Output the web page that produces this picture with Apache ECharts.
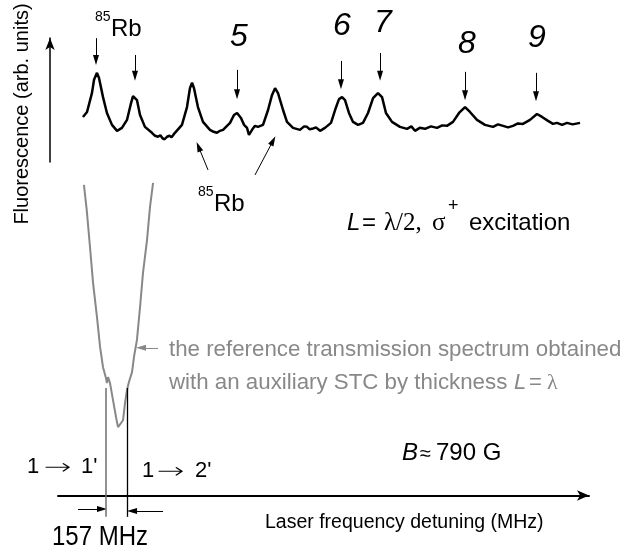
<!DOCTYPE html>
<html>
<head>
<meta charset="utf-8">
<title>Fluorescence spectrum, L = lambda/2</title>
<script src="https://cdn.jsdelivr.net/npm/echarts@6/dist/echarts.min.js"></script>
<style>
    html, body { margin: 0; padding: 0; background: #fff; }
    #chart { width: 639px; height: 555px; }
</style>
</head>
<body>
<div id="chart"></div>
<script>
    // laser detuning in MHz (0 = 1->1' transition), signal in arb. units
    var fluoX = [-162, -133, -98, -83, -62, -48, -19, 9, 45, 81,
        116, 152, 181, 195, 223, 245, 280, 330, 352, 373,
        390, 405, 420, 437, 455, 470, 494, 544, 580, 601,
        616, 630, 658, 694, 744, 770, 794, 815, 837, 887,
        915, 937, 965, 987, 1008, 1022, 1044, 1065, 1086, 1122,
        1158, 1186, 1208, 1229, 1265, 1293, 1336, 1386, 1415, 1436,
        1455, 1472, 1500, 1529, 1564, 1607, 1636, 1664, 1686, 1707,
        1735, 1764, 1800, 1835, 1871, 1907, 1942, 1971, 1999, 2042,
        2099, 2149, 2180, 2206, 2240, 2277, 2320, 2363, 2400, 2434,
        2477, 2520, 2563, 2598, 2648, 2705, 2762, 2798, 2834, 2870,
        2905, 2940, 2976, 3026, 3076, 3112, 3155, 3190, 3219, 3255,
        3290, 3330, 3383];
    var fluoY = [76.4, 77.4, 81.2, 83.9, 85.3, 84.3, 80.4, 77.2, 74.8, 73.6,
        74.2, 75.8, 79.2, 80.6, 79.8, 76.8, 74.4, 73.2, 72.6, 72.4,
        72.7, 72.1, 71.9, 72.4, 72.6, 72.3, 73.2, 74.8, 78.4, 82.2,
        83.3, 82.2, 78.4, 75.4, 73.8, 73.4, 73.2, 73.6, 73.8, 75.2,
        76.8, 77.2, 76.2, 74.8, 74.2, 72.8, 73.8, 74.6, 74.4, 74.8,
        77.8, 80.8, 82.2, 81.2, 77.8, 75.4, 74.2, 73.8, 74.5, 74.4,
        73.9, 74.0, 74.3, 73.6, 74.2, 75.2, 77.8, 80.0, 80.4, 79.8,
        77.2, 75.4, 74.8, 75.2, 77.2, 80.2, 81.2, 80.4, 77.2, 75.4,
        74.4, 74.0, 74.5, 73.6, 74.2, 74.0, 74.5, 74.2, 74.7, 74.6,
        75.4, 77.2, 78.4, 77.4, 75.8, 74.8, 74.4, 74.9, 74.6, 74.3,
        74.6, 75.1, 75.0, 75.8, 77.0, 76.4, 75.6, 75.0, 75.2, 74.8,
        75.2, 74.9, 75.2];

    // reference transmission spectrum (auxiliary STC, L = lambda)
    var refX = [-155, -135, -112, -90, -62, -40, -19, 2, 9, 17,
        31, 52, 74, 88, 102, 124, 138, 152, 166, 188,
        202, 223, 245, 266, 295, 316, 338];
    var refY = [62.7, 57.6, 50.2, 42.9, 36.0, 30.0, 25.9, 23.7, 22.7, 23.9,
        22.7, 19.3, 15.8, 13.8, 13.6, 15.2, 18.7, 21.3, 22.9, 24.9,
        28.0, 31.4, 38.0, 44.9, 51.6, 58.2, 63.1];

    // vertical arrows over the peaks
    var peakArrowX = [-69, 209, 937, 1678, 1957, 2563, 3069];
    var peakArrowTail = [92.3, 88.9, 85.9, 87.7, 89.3, 85.5, 85.3];
    var peakArrowHead = [87.9, 84.7, 81.0, 83.0, 84.7, 80.8, 80.6];
    var peakLabels = ['5', '6', '7', '8', '9'];

    // two slanted arrows to the lower 85Rb label
    var rbTail = [[730, 65.7], [1065, 64.7]];
    var rbHead = [[662, 70.4], [1194, 71.6]];

    // 1->1' and 1->2' positions, separated by 157 MHz
    var transX = [0, 157];
    var transLabels = ["1'", "2'"];

    var SANS = '"Liberation Sans", Arial, sans-serif';
    var SERIF = '"Liberation Serif", "Times New Roman", serif';

    function pairs(xs, ys) {
        return xs.map(function (x, i) { return [x, ys[i]]; });
    }

    function txt(x, y, s, size, extra) {
        var el = {
            type: 'text',
            x: x,
            y: y,
            silent: true,
            style: {
                text: s,
                fontSize: size,
                fontFamily: SANS,
                fill: '#000',
                textAlign: 'left',
                align: 'left',
                textVerticalAlign: 'middle',
                verticalAlign: 'middle'
            }
        };
        if (extra) {
            for (var k in extra) {
                if (k === 'style') {
                    for (var j in extra.style) el.style[j] = extra.style[j];
                } else {
                    el[k] = extra[k];
                }
            }
        }
        return el;
    }

    var blackLines = [];
    for (var i = 0; i < peakArrowX.length; i++) {
        blackLines.push([
            {coord: [peakArrowX[i], peakArrowTail[i]]},
            {coord: [peakArrowX[i], peakArrowHead[i]]}
        ]);
    }
    for (var i = 0; i < rbTail.length; i++) {
        blackLines.push([{coord: rbTail[i]}, {coord: rbHead[i]}]);
    }
    // 157 MHz spacing arrows below the axis
    blackLines.push([{coord: [-197, -2.7]}, {coord: [-26, -2.7]}]);
    blackLines.push([{coord: [409, -3.1]}, {coord: [188, -3.1]}]);
    // 1->2' marker
    blackLines.push([
        {coord: [transX[1], -4.3], symbol: 'none', lineStyle: {color: '#000', width: 1.3}},
        {coord: [transX[1], 21.7], symbol: 'none'}
    ]);

    var grayLines = [
        [{coord: [373, 29.8]}, {coord: [252, 29.8]}],
        [
            {coord: [transX[0], -4.3], symbol: 'none', lineStyle: {color: '#6e6e6e', width: 1.5}},
            {coord: [transX[0], 21.7], symbol: 'none'}
        ]
    ];

    var digitPos = [[239, 37], [342, 26], [383, 23], [467, 44], [537, 38]];
    var graphics = [];
    peakLabels.forEach(function (s, i) {
        graphics.push(txt(digitPos[i][0], digitPos[i][1], s, 32,
            {style: {fontStyle: 'italic', textAlign: 'center', align: 'center'}}));
    });

    // thin long arrow for the transition labels
    var arrowFont = {scaleX: 1.5, style: {fontFamily: '"DejaVu Sans", sans-serif', fontWeight: 200}};

    graphics.push(
        txt(22, 114, 'Fluorescence (arb. units)', 20,
            {rotation: Math.PI / 2, style: {textAlign: 'center', align: 'center'}}),
        txt(265, 523, 'Laser frequency detuning (MHz)', 19.5),
        txt(52, 537, '157 MHz', 24, {scaleY: 1.15}),
        // 85Rb, top
        txt(95, 17, '85', 14),
        txt(111, 29, 'Rb', 24),
        // 85Rb, bottom
        txt(198, 192, '85', 14),
        txt(214, 204, 'Rb', 24),
        // transitions
        txt(27, 467, '1', 22),
        txt(44, 468, '\u2192', 22, arrowFont),
        txt(81, 467, transLabels[0], 22),
        txt(142, 471, '1', 22),
        txt(157, 472, '\u2192', 22, arrowFont),
        txt(195, 471, transLabels[1], 22),
        // magnetic field
        txt(402, 453, 'B', 24, {style: {fontStyle: 'italic'}}),
        txt(420, 454, '\u2248', 20),
        txt(436, 453, '790 G', 24),
        // cell thickness and polarization
        txt(347, 223, 'L', 24, {style: {fontStyle: 'italic'}}),
        txt(362, 223, '=', 24),
        txt(384, 223, '\u03bb/2,', 25, {style: {fontFamily: SERIF}}),
        txt(432, 223, '\u03c3', 25, {style: {fontFamily: SERIF}}),
        txt(448, 206, '+', 18),
        txt(469, 223, 'excitation', 24),
        // note on the gray curve
        txt(169, 350, 'the reference transmission spectrum obtained', 22.3, {style: {fill: '#888'}}),
        txt(169, 383, 'with an auxiliary STC by thickness', 22.3, {style: {fill: '#888'}}),
        txt(514, 383, 'L', 22, {style: {fill: '#888', fontStyle: 'italic'}}),
        txt(529, 383, '=', 22, {style: {fill: '#888'}}),
        txt(547, 383, '\u03bb', 22, {style: {fill: '#888', fontFamily: SERIF}})
    );

    var chart = echarts.init(document.getElementById('chart'));
    chart.setOption({
        animation: false,
        backgroundColor: '#fff',
        grid: [
            {left: 58, right: 50, top: 0, bottom: 0},
            {left: 50, top: 38, width: 30, height: 124}
        ],
        xAxis: [
            {
                type: 'value',
                min: -340,
                max: 3447,
                axisLine: {
                    show: true,
                    onZero: true,
                    symbol: ['none', 'arrow'],
                    symbolSize: [8, 12],
                    lineStyle: {color: '#000', width: 2}
                },
                axisTick: {show: false},
                axisLabel: {show: false},
                splitLine: {show: false}
            },
            {gridIndex: 1, type: 'value', min: 0, max: 1, show: false}
        ],
        yAxis: [
            {type: 'value', min: -12, max: 100, show: false},
            {
                gridIndex: 1,
                type: 'value',
                min: 0,
                max: 1,
                axisLine: {
                    show: true,
                    symbol: ['none', 'arrow'],
                    symbolSize: [7, 12],
                    lineStyle: {color: '#000', width: 1.5}
                },
                axisTick: {show: false},
                axisLabel: {show: false},
                splitLine: {show: false}
            }
        ],
        series: [
            {
                name: 'fluorescence',
                type: 'line',
                data: pairs(fluoX, fluoY),
                showSymbol: false,
                silent: true,
                color: '#000',
                lineStyle: {color: '#000', width: 2.5},
                markLine: {
                    silent: true,
                    symbol: ['none', 'triangle'],
                    symbolSize: [6, 10],
                    label: {show: false},
                    lineStyle: {color: '#000', width: 1, type: 'solid'},
                    data: blackLines
                }
            },
            {
                name: 'reference',
                type: 'line',
                data: pairs(refX, refY),
                showSymbol: false,
                silent: true,
                color: '#888',
                lineStyle: {color: '#888', width: 2},
                markLine: {
                    silent: true,
                    symbol: ['none', 'triangle'],
                    symbolSize: [6, 10],
                    label: {show: false},
                    lineStyle: {color: '#888', width: 1, type: 'solid'},
                    data: grayLines
                }
            }
        ],
        graphic: graphics
    });
</script>
</body>
</html>
